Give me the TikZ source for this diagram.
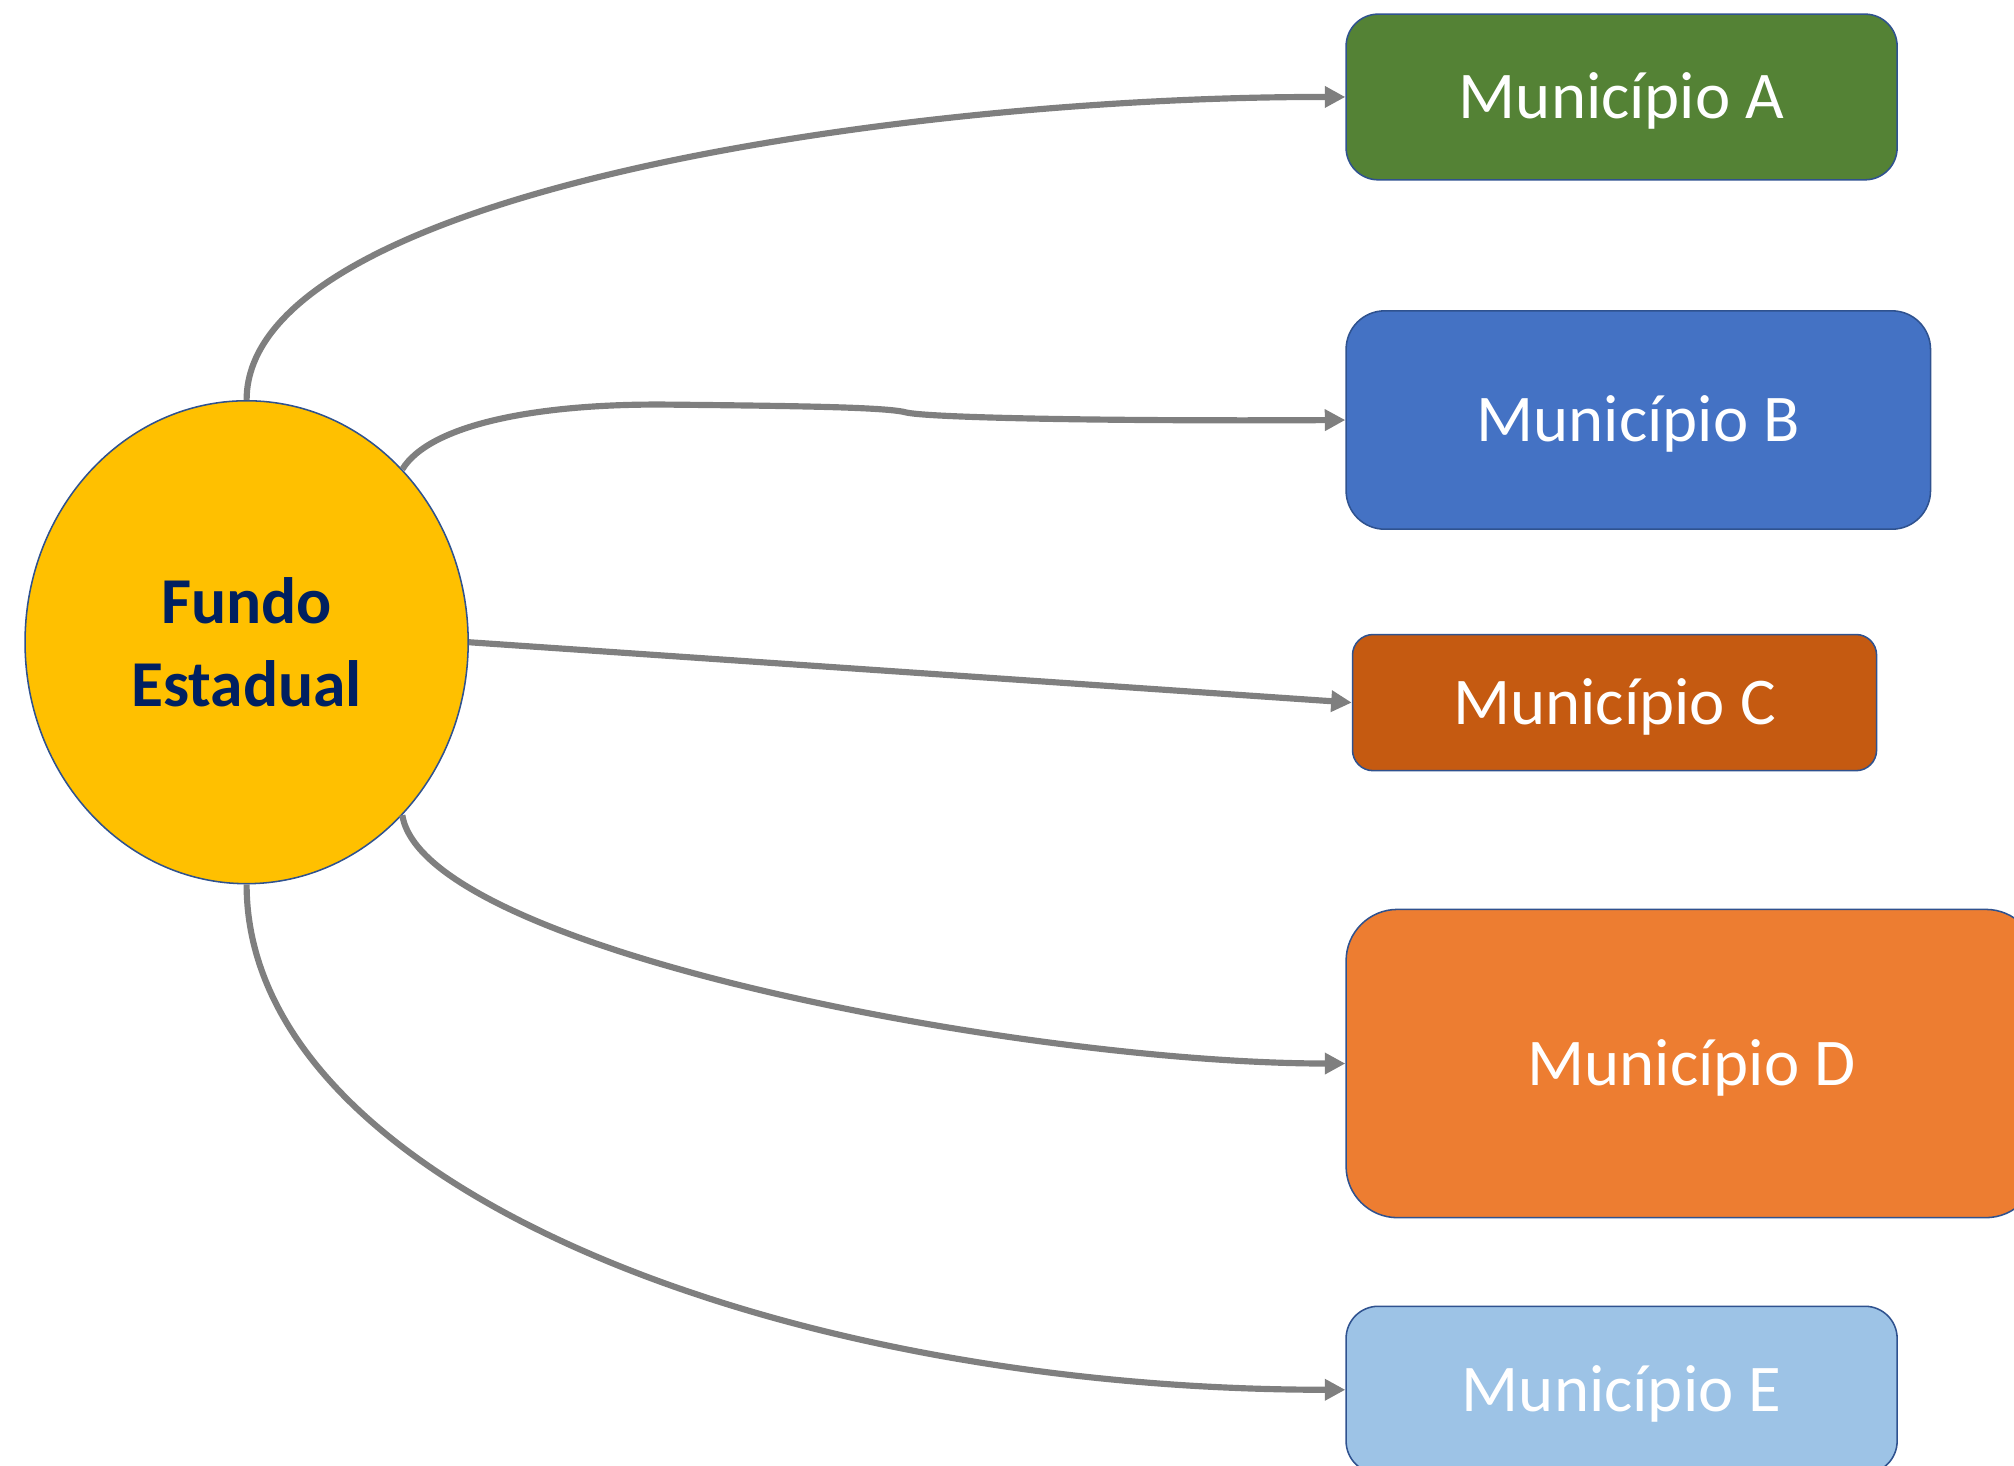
\documentclass[tikz,border=0pt]{standalone}
\usepackage{fontspec}
\setmainfont{Carlito}
\usetikzlibrary{arrows.meta,shapes.geometric}
\definecolor{fundoY}{HTML}{FFC000}
\definecolor{navyT}{HTML}{002060}
\definecolor{bordB}{HTML}{2F528F}
\definecolor{grayC}{HTML}{7F7F7F}
\definecolor{colA}{HTML}{548235}
\definecolor{colB}{HTML}{4472C4}
\definecolor{colC}{HTML}{C55A11}
\definecolor{colD}{HTML}{ED7D31}
\definecolor{colE}{HTML}{9DC3E6}
\begin{document}
\begin{tikzpicture}[x=0.5pt,y=-0.5pt,
  mbox/.style={draw=bordB, line width=0.6pt, text=white, inner sep=0pt,
    font=\fontsize{26}{31}\selectfont, text height=17pt, text depth=0pt},
  conn/.style={draw=grayC, line width=2.4pt, -{Triangle[length=8pt,width=8pt]}}]
\useasboundingbox (0,0) rectangle (1568,1141);
\clip (0,0) rectangle (1568,1141);
\node[ellipse, draw=bordB, line width=0.6pt, fill=fundoY, minimum width=172.5pt, minimum height=188pt,
  inner sep=0pt, align=center, text=navyT, font=\bfseries\fontsize{25.5}{32}\selectfont] (fundo) at (192,500) {Fundo\\Estadual};
\node[mbox, fill=colA, minimum width=214.5pt, minimum height=64.5pt, rounded corners=12.5pt] (A) at (1262.5,75.5) {Município A};
\node[mbox, fill=colB, minimum width=227.5pt, minimum height=85pt, rounded corners=15pt] (B) at (1275.5,327) {Município B};
\node[mbox, fill=colC, minimum width=204pt, minimum height=53pt, rounded corners=8pt] (C) at (1257,547) {Município C};
\node[mbox, fill=colD, minimum width=269pt, minimum height=120pt, rounded corners=20pt] (D) at (1317,828) {Município D};
\node[mbox, fill=colE, minimum width=214.5pt, minimum height=65pt, rounded corners=12.5pt] (E) at (1262.5,1082) {Município E};
\draw[conn] (fundo.north) .. controls (192,150) and (700,75) .. (A.west);
\draw[conn] (fundo.48) .. controls (335,330) and (420,314) .. (520,315) .. controls (620,316) and (690,317) .. (705,321) .. controls (720,325) and (850,328) .. (B.west);
\draw[conn] (fundo.east) -- (C.west);
\draw[conn] (fundo.-48) .. controls (330,740) and (800,828) .. (D.west);
\draw[conn] (fundo.south) .. controls (192,920) and (600,1082) .. (E.west);
\end{tikzpicture}
\end{document}
